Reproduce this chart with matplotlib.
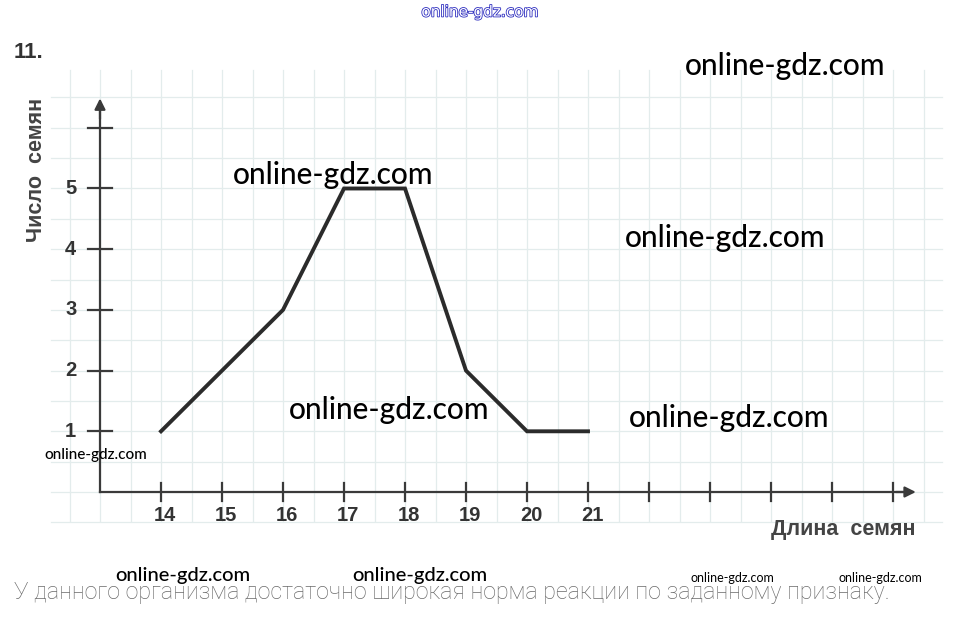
import numpy as np
import matplotlib.pyplot as plt
import matplotlib.patheffects as pe

# seed length vs number of seeds
lengths = [14, 15, 16, 17, 18, 19, 20, 21]
counts = [1, 2, 3, 5, 5, 2, 1, 1]
x_ticks = [14, 15, 16, 17, 18, 19, 20, 21, 22, 23, 24, 25, 26]
x_labels = ['14', '15', '16', '17', '18', '19', '20', '21']
y_ticks = [1, 2, 3, 4, 5, 6]
y_labels = ['1', '2', '3', '4', '5']

W, H = 958, 618
fig = plt.figure(figsize=(W / 100, H / 100), dpi=100)
ax = fig.add_axes([0, 0, 1, 1])
# 1 unit = 61 px in x, 60.7 px in y, origin (13, 0) at pixel (100, 492)
ax.set_xlim(13 - 100 / 61, 13 + (W - 100) / 61)
ax.set_ylim(-(H - 492) / 60.7, 492 / 60.7)
ax.axis('off')


def px(x, y):
    return x / W, 1 - y / H


# light squared paper
gc = '#e3ecec'
for gx in np.arange(12.5, 27.0, 0.5):
    ax.plot([gx, gx], [-0.47, 6.95], color=gc, lw=0.9, zorder=0)
for gy in np.arange(-0.5, 7.0, 0.5):
    ax.plot([12.2, 26.8], [gy, gy], color=gc, lw=0.9, zorder=0)

ac = '#3a3a3a'
ax.plot([13, 26.2], [0, 0], color=ac, lw=1.6, zorder=2)
ax.plot([13, 13], [0, 6.3], color=ac, lw=1.6, zorder=2)
ax.annotate('', xy=(26.42, 0), xytext=(26.0, 0),
            arrowprops=dict(arrowstyle='-|>', color=ac, lw=1.6, mutation_scale=16))
ax.annotate('', xy=(13, 6.53), xytext=(13, 6.1),
            arrowprops=dict(arrowstyle='-|>', color=ac, lw=1.6, mutation_scale=16))
for t in x_ticks:
    ax.plot([t, t], [-0.15, 0.15], color=ac, lw=1.6, zorder=2)
for t in y_ticks:
    ax.plot([12.8, 13.2], [t, t], color=ac, lw=1.6, zorder=2)

tc = '#333333'
for t, lab in zip(x_ticks, x_labels):
    ax.text(t + 0.07, -0.38, lab, ha='center', va='center', fontsize=14.5,
            fontweight='bold', color=tc, family='Liberation Sans')
for t, lab in zip(y_ticks, y_labels):
    ax.text(12.52, t, lab, ha='center', va='center', fontsize=14.5,
            fontweight='bold', color=tc, family='Liberation Sans')

ax.plot(lengths, counts, color='#2b2b2b', lw=2.8, solid_joinstyle='miter', zorder=3)

fig.text(*px(843, 530), 'Длина  семян', ha='center', va='center', fontsize=15.5,
         fontweight='bold', color='#444444', family='Liberation Sans')
fig.text(*px(36, 170), 'Число  семян', ha='center', va='center', fontsize=15.5,
         fontweight='bold', color='#444444', family='Liberation Sans', rotation=90)
fig.text(*px(14, 52), '11.', ha='left', va='center', fontsize=16,
         fontweight='bold', color='#333333', family='Liberation Sans')
fig.text(*px(14, 592), 'У данного организма достаточно широкая норма реакции по заданному признаку.',
         ha='left', va='center', fontsize=16.75, color='#6a6a6a', family='Roboto',
         fontweight='light')

# watermarks
wm = [(785, 66, 21.5), (333, 175, 21.5), (725, 238, 21.5), (389, 410, 21.5), (729, 418, 21.5),
      (96, 455, 11), (183, 575, 14.5), (420, 575, 14.5)]
for x, y, s in wm:
    fig.text(*px(x, y), 'online-gdz.com', ha='center', va='center', fontsize=s,
             color='black', family='Lato', fontweight='medium', zorder=5)
for x, y in [(732, 578), (880, 578)]:
    fig.text(*px(x, y), 'online-gdz.com', ha='center', va='center', fontsize=9,
             color='black', family='Lato', stretch='condensed', zorder=5)
fig.text(*px(480, 12), 'online-gdz.com', ha='center', va='center', fontsize=11,
         color='white', family='DejaVu Sans',
         path_effects=[pe.withStroke(linewidth=1.2, foreground='#3030c0')])

fig.savefig('out.png', dpi=100)
